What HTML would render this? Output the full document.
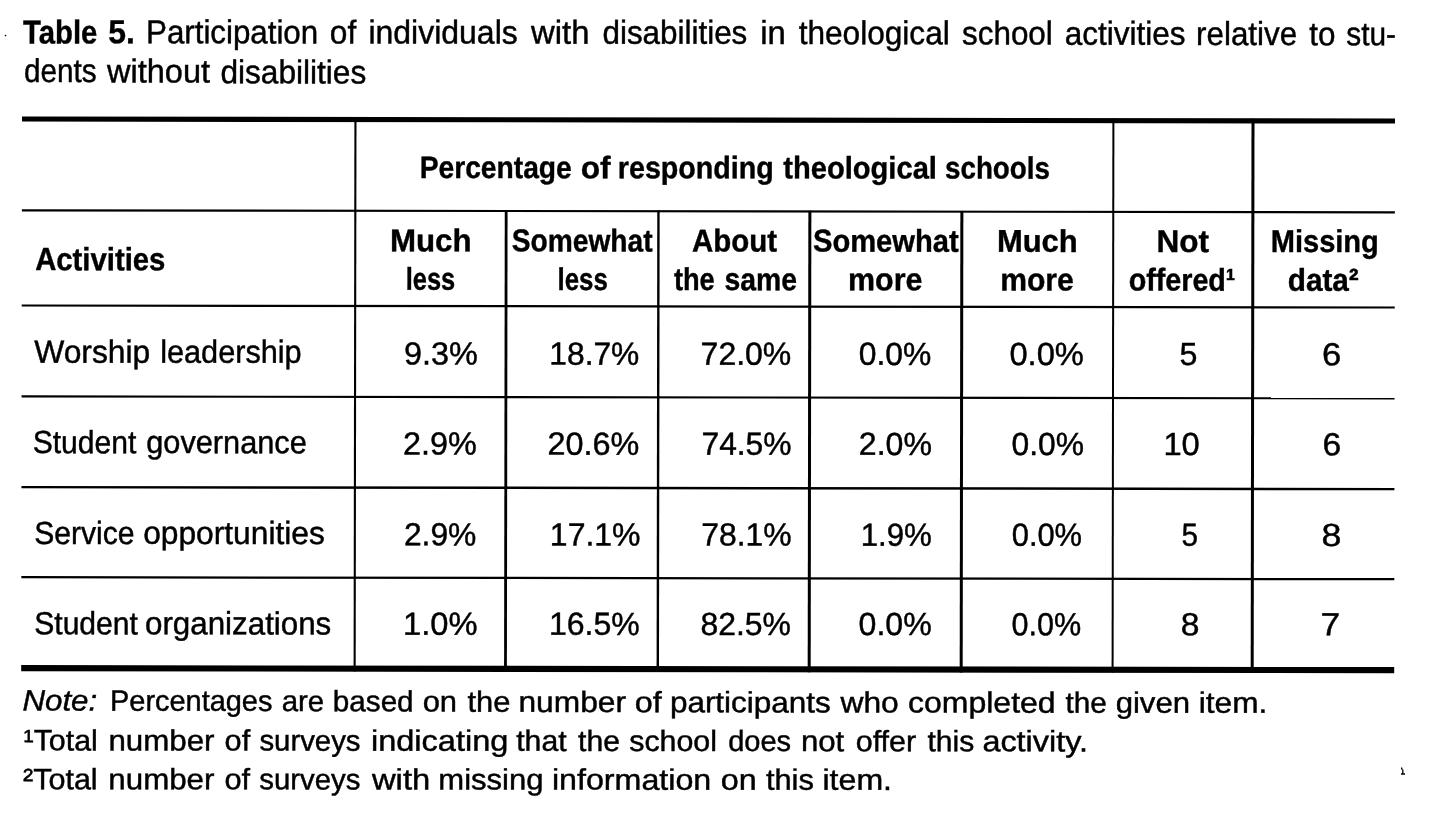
<!DOCTYPE html><html><head><meta charset="utf-8"><style>html,body{margin:0;padding:0;background:#fff;}svg{display:block;filter:grayscale(1)}text{font-family:"Liberation Sans",Arial,sans-serif;fill:#000}</style></head><body>
<svg width="1443" height="817" viewBox="0 0 1443 817">
<rect width="1443" height="817" fill="#fff"/>
<g transform="rotate(0.084 22 117)" fill="#000">
<rect x="22" y="116.5" width="1373" height="5.1"/>
<rect x="22" y="209.2" width="1373" height="2.2"/>
<rect x="22" y="304.4" width="1373" height="2.2"/>
<rect x="22" y="395.3" width="1373" height="2.2"/>
<rect x="22" y="485.9" width="1373" height="2.4"/>
<rect x="22" y="576.1" width="1373" height="2.2"/>
<rect x="22" y="665.1" width="1373" height="6.1"/>
<rect x="354.4" y="117" width="2.1" height="554"/>
<rect x="504.9" y="209.6" width="2.8" height="461.4"/>
<rect x="657.4" y="209.6" width="2.4" height="461.4"/>
<rect x="808.5" y="209.6" width="3.0" height="461.4"/>
<rect x="960.5" y="209.6" width="3.0" height="461.4"/>
<rect x="1112.4" y="117" width="2.0" height="554"/>
<rect x="1251.5" y="117" width="3.0" height="554"/>
<text x="23.00" y="43.47" font-size="33" textLength="74.25" lengthAdjust="spacingAndGlyphs" font-weight="bold" stroke="#000" stroke-width="0.4">Table</text>
<text x="108.12" y="43.23" font-size="33" textLength="26.60" lengthAdjust="spacingAndGlyphs" font-weight="bold" stroke="#000" stroke-width="0.4">5.</text>
<text x="145.92" y="43.04" font-size="33" textLength="172.14" lengthAdjust="spacingAndGlyphs" stroke="#000" stroke-width="0.45">Participation</text>
<text x="329.72" y="42.98" font-size="33" textLength="26.35" lengthAdjust="spacingAndGlyphs" stroke="#000" stroke-width="0.45">of</text>
<text x="368.37" y="42.93" font-size="33" textLength="149.26" lengthAdjust="spacingAndGlyphs" stroke="#000" stroke-width="0.45">individuals</text>
<text x="530.96" y="42.87" font-size="33" textLength="58.31" lengthAdjust="spacingAndGlyphs" stroke="#000" stroke-width="0.45">with</text>
<text x="602.38" y="42.81" font-size="33" textLength="144.84" lengthAdjust="spacingAndGlyphs" stroke="#000" stroke-width="0.45">disabilities</text>
<text x="760.19" y="42.88" font-size="33" textLength="25.61" lengthAdjust="spacingAndGlyphs" stroke="#000" stroke-width="0.45">in</text>
<text x="798.59" y="42.96" font-size="33" textLength="151.05" lengthAdjust="spacingAndGlyphs" stroke="#000" stroke-width="0.45">theological</text>
<text x="961.96" y="43.06" font-size="33" textLength="90.71" lengthAdjust="spacingAndGlyphs" stroke="#000" stroke-width="0.45">school</text>
<text x="1064.76" y="43.15" font-size="33" textLength="120.68" lengthAdjust="spacingAndGlyphs" stroke="#000" stroke-width="0.45">activities</text>
<text x="1195.95" y="43.24" font-size="33" textLength="101.12" lengthAdjust="spacingAndGlyphs" stroke="#000" stroke-width="0.45">relative</text>
<text x="1309.11" y="43.30" font-size="33" textLength="26.18" lengthAdjust="spacingAndGlyphs" stroke="#000" stroke-width="0.45">to</text>
<text x="1346.16" y="43.29" font-size="33" textLength="49.71" lengthAdjust="spacingAndGlyphs" stroke="#000" stroke-width="0.45">stu-</text>
<text x="23.97" y="81.88" font-size="33" textLength="72.67" lengthAdjust="spacingAndGlyphs" stroke="#000" stroke-width="0.45">dents</text>
<text x="106.98" y="82.36" font-size="33" textLength="103.05" lengthAdjust="spacingAndGlyphs" stroke="#000" stroke-width="0.45">without</text>
<text x="220.37" y="82.99" font-size="33" textLength="145.85" lengthAdjust="spacingAndGlyphs" stroke="#000" stroke-width="0.45">disabilities</text>
<text x="419.77" y="177.37" font-size="31" textLength="152.07" lengthAdjust="spacingAndGlyphs" font-weight="bold" stroke="#000" stroke-width="0.4">Percentage</text>
<text x="580.72" y="177.33" font-size="31" textLength="29.93" lengthAdjust="spacingAndGlyphs" font-weight="bold" stroke="#000" stroke-width="0.4">of</text>
<text x="617.95" y="177.29" font-size="31" textLength="155.90" lengthAdjust="spacingAndGlyphs" font-weight="bold" stroke="#000" stroke-width="0.4">responding</text>
<text x="783.38" y="177.22" font-size="31" textLength="153.65" lengthAdjust="spacingAndGlyphs" font-weight="bold" stroke="#000" stroke-width="0.4">theological</text>
<text x="945.15" y="177.16" font-size="31" textLength="104.88" lengthAdjust="spacingAndGlyphs" font-weight="bold" stroke="#000" stroke-width="0.4">schools</text>
<text x="35.38" y="270.09" font-size="32" textLength="130.24" lengthAdjust="spacingAndGlyphs" font-weight="bold" stroke="#000" stroke-width="0.4">Activities</text>
<text x="390.12" y="250.70" font-size="31.5" textLength="81.59" lengthAdjust="spacingAndGlyphs" font-weight="bold" stroke="#000" stroke-width="0.4">Much</text>
<text x="406.07" y="289.20" font-size="31.5" textLength="49.39" lengthAdjust="spacingAndGlyphs" font-weight="bold" stroke="#000" stroke-width="0.4">less</text>
<text x="511.98" y="250.62" font-size="31.5" textLength="140.83" lengthAdjust="spacingAndGlyphs" font-weight="bold" stroke="#000" stroke-width="0.4">Somewhat</text>
<text x="557.88" y="289.15" font-size="31.5" textLength="50.18" lengthAdjust="spacingAndGlyphs" font-weight="bold" stroke="#000" stroke-width="0.4">less</text>
<text x="692.17" y="250.53" font-size="31.5" textLength="85.05" lengthAdjust="spacingAndGlyphs" font-weight="bold" stroke="#000" stroke-width="0.4">About</text>
<text x="674.17" y="289.11" font-size="31.5" textLength="40.84" lengthAdjust="spacingAndGlyphs" font-weight="bold" stroke="#000" stroke-width="0.4">the</text>
<text x="724.75" y="289.09" font-size="31.5" textLength="72.49" lengthAdjust="spacingAndGlyphs" font-weight="bold" stroke="#000" stroke-width="0.4">same</text>
<text x="813.18" y="250.45" font-size="31.5" textLength="145.62" lengthAdjust="spacingAndGlyphs" font-weight="bold" stroke="#000" stroke-width="0.4">Somewhat</text>
<text x="848.32" y="289.04" font-size="31.5" textLength="74.35" lengthAdjust="spacingAndGlyphs" font-weight="bold" stroke="#000" stroke-width="0.4">more</text>
<text x="997.12" y="250.37" font-size="31.5" textLength="80.77" lengthAdjust="spacingAndGlyphs" font-weight="bold" stroke="#000" stroke-width="0.4">Much</text>
<text x="1000.50" y="288.99" font-size="31.5" textLength="73.54" lengthAdjust="spacingAndGlyphs" font-weight="bold" stroke="#000" stroke-width="0.4">more</text>
<text x="1156.73" y="250.29" font-size="31.5" textLength="52.54" lengthAdjust="spacingAndGlyphs" font-weight="bold" stroke="#000" stroke-width="0.4">Not</text>
<text x="1128.98" y="288.94" font-size="31.5" textLength="106.66" lengthAdjust="spacingAndGlyphs" font-weight="bold" stroke="#000" stroke-width="0.4">offered¹</text>
<text x="1270.93" y="250.18" font-size="31.5" textLength="108.12" lengthAdjust="spacingAndGlyphs" font-weight="bold" stroke="#000" stroke-width="0.4">Missing</text>
<text x="1287.97" y="288.89" font-size="31.5" textLength="71.04" lengthAdjust="spacingAndGlyphs" font-weight="bold" stroke="#000" stroke-width="0.4">data²</text>
<text x="34.58" y="362.67" font-size="32" textLength="116.04" lengthAdjust="spacingAndGlyphs" stroke="#000" stroke-width="0.45">Worship</text>
<text x="160.57" y="362.47" font-size="32" textLength="141.45" lengthAdjust="spacingAndGlyphs" stroke="#000" stroke-width="0.45">leadership</text>
<text x="404.33" y="363.96" font-size="32.0" textLength="73.72" lengthAdjust="spacingAndGlyphs" stroke="#000" stroke-width="0.45">9.3%</text>
<text x="549.72" y="363.84" font-size="32.0" textLength="89.94" lengthAdjust="spacingAndGlyphs" stroke="#000" stroke-width="0.45">18.7%</text>
<text x="700.98" y="363.72" font-size="32.0" textLength="90.66" lengthAdjust="spacingAndGlyphs" stroke="#000" stroke-width="0.45">72.0%</text>
<text x="859.16" y="363.61" font-size="32.0" textLength="72.49" lengthAdjust="spacingAndGlyphs" stroke="#000" stroke-width="0.45">0.0%</text>
<text x="1009.76" y="363.49" font-size="32.0" textLength="74.50" lengthAdjust="spacingAndGlyphs" stroke="#000" stroke-width="0.45">0.0%</text>
<text x="1179.83" y="363.38" font-size="32.0" textLength="17.90" lengthAdjust="spacingAndGlyphs" stroke="#000" stroke-width="0.45">5</text>
<text x="1322.36" y="363.27" font-size="32.0" textLength="19.26" lengthAdjust="spacingAndGlyphs" stroke="#000" stroke-width="0.45">6</text>
<text x="33.17" y="453.08" font-size="32" textLength="103.64" lengthAdjust="spacingAndGlyphs" stroke="#000" stroke-width="0.45">Student</text>
<text x="146.78" y="452.87" font-size="32" textLength="160.45" lengthAdjust="spacingAndGlyphs" stroke="#000" stroke-width="0.45">governance</text>
<text x="403.52" y="453.96" font-size="32.0" textLength="73.72" lengthAdjust="spacingAndGlyphs" stroke="#000" stroke-width="0.45">2.9%</text>
<text x="547.97" y="453.84" font-size="32.0" textLength="91.69" lengthAdjust="spacingAndGlyphs" stroke="#000" stroke-width="0.45">20.6%</text>
<text x="701.97" y="453.72" font-size="32.0" textLength="90.05" lengthAdjust="spacingAndGlyphs" stroke="#000" stroke-width="0.45">74.5%</text>
<text x="859.33" y="453.61" font-size="32.0" textLength="73.10" lengthAdjust="spacingAndGlyphs" stroke="#000" stroke-width="0.45">2.0%</text>
<text x="1011.98" y="453.49" font-size="32.0" textLength="72.46" lengthAdjust="spacingAndGlyphs" stroke="#000" stroke-width="0.45">0.0%</text>
<text x="1163.92" y="453.39" font-size="32.0" textLength="36.41" lengthAdjust="spacingAndGlyphs" stroke="#000" stroke-width="0.45">10</text>
<text x="1322.97" y="453.27" font-size="32.0" textLength="18.66" lengthAdjust="spacingAndGlyphs" stroke="#000" stroke-width="0.45">6</text>
<text x="34.77" y="543.88" font-size="32" textLength="100.27" lengthAdjust="spacingAndGlyphs" stroke="#000" stroke-width="0.45">Service</text>
<text x="143.79" y="543.66" font-size="32" textLength="181.63" lengthAdjust="spacingAndGlyphs" stroke="#000" stroke-width="0.45">opportunities</text>
<text x="404.55" y="544.76" font-size="32.0" textLength="72.47" lengthAdjust="spacingAndGlyphs" stroke="#000" stroke-width="0.45">2.9%</text>
<text x="550.50" y="544.64" font-size="32.0" textLength="90.55" lengthAdjust="spacingAndGlyphs" stroke="#000" stroke-width="0.45">17.1%</text>
<text x="701.93" y="544.52" font-size="32.0" textLength="90.31" lengthAdjust="spacingAndGlyphs" stroke="#000" stroke-width="0.45">78.1%</text>
<text x="861.32" y="544.41" font-size="32.0" textLength="71.14" lengthAdjust="spacingAndGlyphs" stroke="#000" stroke-width="0.45">1.9%</text>
<text x="1012.36" y="544.29" font-size="32.0" textLength="70.30" lengthAdjust="spacingAndGlyphs" stroke="#000" stroke-width="0.45">0.0%</text>
<text x="1182.18" y="544.18" font-size="32.0" textLength="16.50" lengthAdjust="spacingAndGlyphs" stroke="#000" stroke-width="0.45">5</text>
<text x="1322.07" y="544.07" font-size="32.0" textLength="19.84" lengthAdjust="spacingAndGlyphs" stroke="#000" stroke-width="0.45">8</text>
<text x="34.99" y="634.28" font-size="32" textLength="103.62" lengthAdjust="spacingAndGlyphs" stroke="#000" stroke-width="0.45">Student</text>
<text x="145.77" y="634.06" font-size="32" textLength="186.27" lengthAdjust="spacingAndGlyphs" stroke="#000" stroke-width="0.45">organizations</text>
<text x="403.85" y="634.16" font-size="32.0" textLength="74.40" lengthAdjust="spacingAndGlyphs" stroke="#000" stroke-width="0.45">1.0%</text>
<text x="549.73" y="634.04" font-size="32.0" textLength="90.71" lengthAdjust="spacingAndGlyphs" stroke="#000" stroke-width="0.45">16.5%</text>
<text x="701.17" y="633.92" font-size="32.0" textLength="90.48" lengthAdjust="spacingAndGlyphs" stroke="#000" stroke-width="0.45">82.5%</text>
<text x="859.35" y="633.81" font-size="32.0" textLength="73.10" lengthAdjust="spacingAndGlyphs" stroke="#000" stroke-width="0.45">0.0%</text>
<text x="1012.37" y="633.69" font-size="32.0" textLength="69.66" lengthAdjust="spacingAndGlyphs" stroke="#000" stroke-width="0.45">0.0%</text>
<text x="1181.46" y="633.58" font-size="32.0" textLength="18.67" lengthAdjust="spacingAndGlyphs" stroke="#000" stroke-width="0.45">8</text>
<text x="1321.35" y="633.47" font-size="32.0" textLength="19.63" lengthAdjust="spacingAndGlyphs" stroke="#000" stroke-width="0.45">7</text>
<text x="23.37" y="710.52" font-size="29.5" textLength="74.67" lengthAdjust="spacingAndGlyphs" font-style="italic" stroke="#000" stroke-width="0.45">Note:</text>
<text x="110.96" y="710.56" font-size="29.5" textLength="162.26" lengthAdjust="spacingAndGlyphs" stroke="#000" stroke-width="0.45">Percentages</text>
<text x="282.54" y="710.73" font-size="29.5" textLength="42.51" lengthAdjust="spacingAndGlyphs" stroke="#000" stroke-width="0.45">are</text>
<text x="333.72" y="710.83" font-size="29.5" textLength="80.77" lengthAdjust="spacingAndGlyphs" stroke="#000" stroke-width="0.45">based</text>
<text x="423.51" y="710.93" font-size="29.5" textLength="34.41" lengthAdjust="spacingAndGlyphs" stroke="#000" stroke-width="0.45">on</text>
<text x="468.36" y="711.00" font-size="29.5" textLength="42.90" lengthAdjust="spacingAndGlyphs" stroke="#000" stroke-width="0.45">the</text>
<text x="519.36" y="711.13" font-size="29.5" textLength="107.48" lengthAdjust="spacingAndGlyphs" stroke="#000" stroke-width="0.45">number</text>
<text x="635.69" y="711.24" font-size="29.5" textLength="26.95" lengthAdjust="spacingAndGlyphs" stroke="#000" stroke-width="0.45">of</text>
<text x="670.77" y="711.33" font-size="29.5" textLength="160.86" lengthAdjust="spacingAndGlyphs" stroke="#000" stroke-width="0.45">participants</text>
<text x="841.41" y="711.25" font-size="29.5" textLength="58.24" lengthAdjust="spacingAndGlyphs" stroke="#000" stroke-width="0.45">who</text>
<text x="908.98" y="711.18" font-size="29.5" textLength="147.48" lengthAdjust="spacingAndGlyphs" stroke="#000" stroke-width="0.45">completed</text>
<text x="1066.36" y="711.11" font-size="29.5" textLength="41.31" lengthAdjust="spacingAndGlyphs" stroke="#000" stroke-width="0.45">the</text>
<text x="1116.56" y="711.07" font-size="29.5" textLength="74.33" lengthAdjust="spacingAndGlyphs" stroke="#000" stroke-width="0.45">given</text>
<text x="1199.69" y="711.00" font-size="29.5" textLength="68.49" lengthAdjust="spacingAndGlyphs" stroke="#000" stroke-width="0.45">item.</text>
<text x="24.54" y="750.34" font-size="29.5" textLength="74.12" lengthAdjust="spacingAndGlyphs" stroke="#000" stroke-width="0.45">¹Total</text>
<text x="109.34" y="750.29" font-size="29.5" textLength="106.08" lengthAdjust="spacingAndGlyphs" stroke="#000" stroke-width="0.45">number</text>
<text x="225.52" y="750.25" font-size="29.5" textLength="25.56" lengthAdjust="spacingAndGlyphs" stroke="#000" stroke-width="0.45">of</text>
<text x="260.37" y="750.22" font-size="29.5" textLength="101.05" lengthAdjust="spacingAndGlyphs" stroke="#000" stroke-width="0.45">surveys</text>
<text x="371.95" y="750.16" font-size="29.5" textLength="137.30" lengthAdjust="spacingAndGlyphs" stroke="#000" stroke-width="0.45">indicating</text>
<text x="517.17" y="750.11" font-size="29.5" textLength="50.32" lengthAdjust="spacingAndGlyphs" stroke="#000" stroke-width="0.45">that</text>
<text x="579.00" y="750.08" font-size="29.5" textLength="41.84" lengthAdjust="spacingAndGlyphs" stroke="#000" stroke-width="0.45">the</text>
<text x="630.15" y="750.04" font-size="29.5" textLength="87.71" lengthAdjust="spacingAndGlyphs" stroke="#000" stroke-width="0.45">school</text>
<text x="729.16" y="750.00" font-size="29.5" textLength="62.86" lengthAdjust="spacingAndGlyphs" stroke="#000" stroke-width="0.45">does</text>
<text x="801.91" y="749.97" font-size="29.5" textLength="43.28" lengthAdjust="spacingAndGlyphs" stroke="#000" stroke-width="0.45">not</text>
<text x="856.76" y="749.94" font-size="29.5" textLength="60.27" lengthAdjust="spacingAndGlyphs" stroke="#000" stroke-width="0.45">offer</text>
<text x="928.36" y="749.91" font-size="29.5" textLength="46.84" lengthAdjust="spacingAndGlyphs" stroke="#000" stroke-width="0.45">this</text>
<text x="983.35" y="749.87" font-size="29.5" textLength="105.56" lengthAdjust="spacingAndGlyphs" stroke="#000" stroke-width="0.45">activity.</text>
<text x="24.00" y="789.14" font-size="29.5" textLength="74.64" lengthAdjust="spacingAndGlyphs" stroke="#000" stroke-width="0.45">²Total</text>
<text x="109.35" y="789.07" font-size="29.5" textLength="106.07" lengthAdjust="spacingAndGlyphs" stroke="#000" stroke-width="0.45">number</text>
<text x="225.51" y="789.03" font-size="29.5" textLength="25.56" lengthAdjust="spacingAndGlyphs" stroke="#000" stroke-width="0.45">of</text>
<text x="260.37" y="788.98" font-size="29.5" textLength="101.05" lengthAdjust="spacingAndGlyphs" stroke="#000" stroke-width="0.45">surveys</text>
<text x="372.95" y="788.93" font-size="29.5" textLength="58.28" lengthAdjust="spacingAndGlyphs" stroke="#000" stroke-width="0.45">with</text>
<text x="439.33" y="788.88" font-size="29.5" textLength="105.16" lengthAdjust="spacingAndGlyphs" stroke="#000" stroke-width="0.45">missing</text>
<text x="552.95" y="788.79" font-size="29.5" textLength="159.30" lengthAdjust="spacingAndGlyphs" stroke="#000" stroke-width="0.45">information</text>
<text x="721.71" y="788.73" font-size="29.5" textLength="35.91" lengthAdjust="spacingAndGlyphs" stroke="#000" stroke-width="0.45">on</text>
<text x="766.96" y="788.69" font-size="29.5" textLength="47.89" lengthAdjust="spacingAndGlyphs" stroke="#000" stroke-width="0.45">this</text>
<text x="823.49" y="788.65" font-size="29.5" textLength="69.52" lengthAdjust="spacingAndGlyphs" stroke="#000" stroke-width="0.45">item.</text>
</g>
<circle cx="5.5" cy="35.5" r="0.85" fill="#000"/>
<path d="M1401.5 767.5 l0.5 2.2 M1402.8 769.5 v4.5 M1401 774 h4" stroke="#000" stroke-width="1.3" fill="none"/>
</svg></body></html>
